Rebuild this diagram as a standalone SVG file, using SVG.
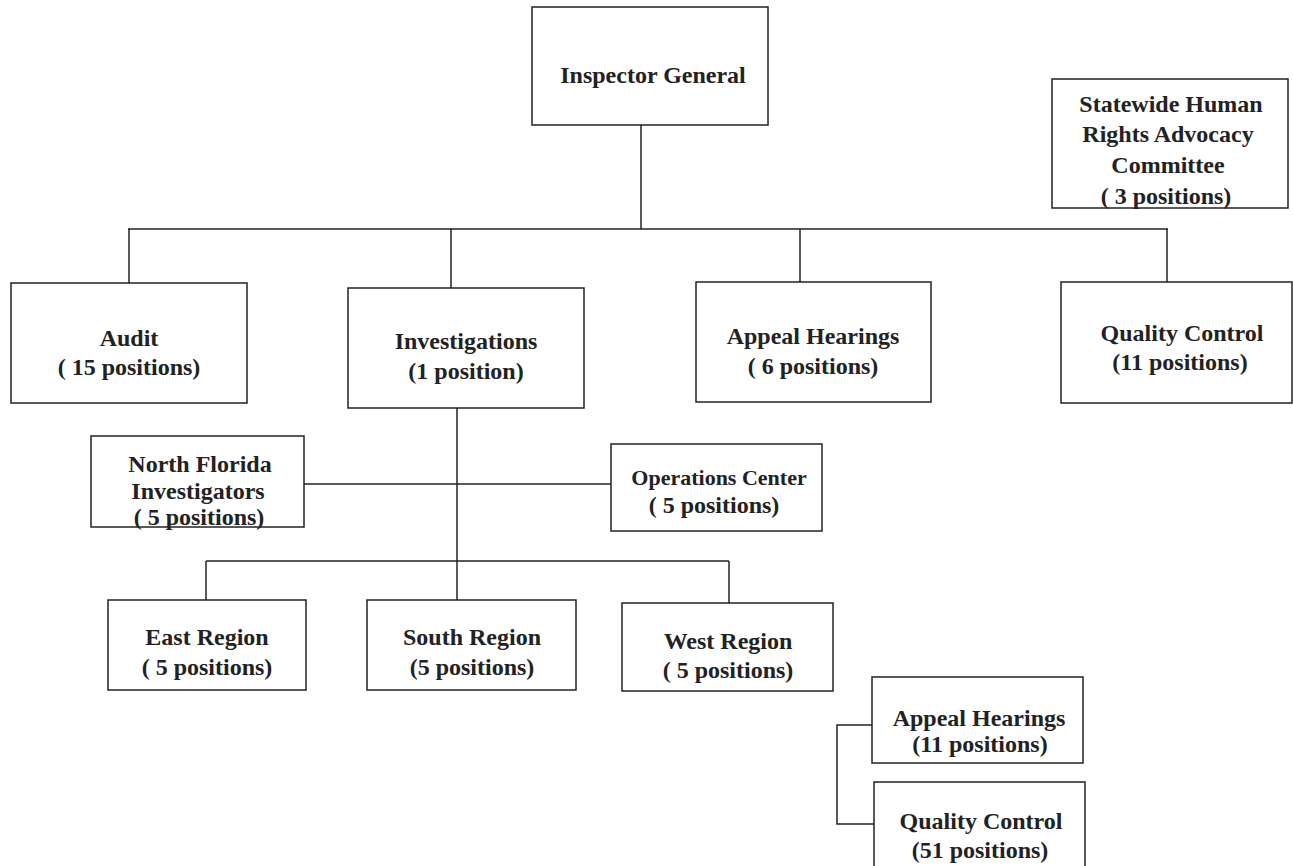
<svg xmlns="http://www.w3.org/2000/svg" width="1293" height="866" viewBox="0 0 1293 866">
<style>
rect{fill:#fff;stroke:#222;stroke-width:1.5}
line,path{stroke:#222;stroke-width:1.5;fill:none}
text{font-family:"Liberation Serif","Times New Roman",serif;font-weight:bold;font-size:24px;fill:#222;text-anchor:middle}
</style>
<rect width="1293" height="866" style="fill:#fff;stroke:none"/>
<g id="connectors">
<line x1="641" y1="125" x2="641" y2="229"/>
<line x1="128" y1="229" x2="1168" y2="229"/>
<line x1="129" y1="229" x2="129" y2="283"/>
<line x1="451" y1="229" x2="451" y2="288"/>
<line x1="800" y1="229" x2="800" y2="282"/>
<line x1="1167" y1="229" x2="1167" y2="282"/>
<line x1="457" y1="408" x2="457" y2="600"/>
<line x1="304" y1="484" x2="611" y2="484"/>
<line x1="206" y1="561" x2="729" y2="561"/>
<line x1="206" y1="561" x2="206" y2="600"/>
<line x1="729" y1="561" x2="729" y2="603"/>
<path d="M872 725 H837 V824 H874"/>
</g>
<g id="inspector-general"><rect x="532" y="7" width="236" height="118"/><text x="653" y="83">Inspector General</text></g>
<g id="committee"><rect x="1052" y="79" width="236" height="129"/>
<text x="1171" y="112">Statewide Human</text><text x="1168" y="142">Rights Advocacy</text><text x="1168" y="173">Committee</text><text x="1166" y="204">( 3 positions)</text></g>
<g id="audit"><rect x="11" y="283" width="236" height="120"/><text x="129" y="346">Audit</text><text x="129" y="375">( 15 positions)</text></g>
<g id="investigations"><rect x="348" y="288" width="236" height="120"/><text x="466" y="349">Investigations</text><text x="466" y="379">(1 position)</text></g>
<g id="appeal-hearings"><rect x="696" y="282" width="235" height="120"/><text x="813" y="344">Appeal Hearings</text><text x="813" y="374">( 6 positions)</text></g>
<g id="quality-control"><rect x="1061" y="282" width="231" height="121"/><text x="1182" y="341">Quality Control</text><text x="1180" y="370">(11 positions)</text></g>
<g id="north-florida"><rect x="91" y="436" width="213" height="91"/><text x="200" y="472">North Florida</text><text x="198" y="499">Investigators</text><text x="199" y="525">( 5 positions)</text></g>
<g id="operations-center"><rect x="611" y="444" width="211" height="87"/><text x="719" y="485" style="font-size:22px">Operations Center</text><text x="714" y="513">( 5 positions)</text></g>
<g id="east-region"><rect x="108" y="600" width="198" height="90"/><text x="207" y="645">East Region</text><text x="207" y="675">( 5 positions)</text></g>
<g id="south-region"><rect x="367" y="600" width="209" height="90"/><text x="472" y="645">South Region</text><text x="472" y="675">(5 positions)</text></g>
<g id="west-region"><rect x="622" y="603" width="211" height="88"/><text x="728" y="649">West Region</text><text x="728" y="678">( 5 positions)</text></g>
<g id="appeal-hearings-2"><rect x="872" y="677" width="211" height="86"/><text x="979" y="726">Appeal Hearings</text><text x="980" y="752">(11 positions)</text></g>
<g id="quality-control-2"><rect x="874" y="782" width="211" height="90"/><text x="981" y="829">Quality Control</text><text x="980" y="858">(51 positions)</text></g>
</svg>
